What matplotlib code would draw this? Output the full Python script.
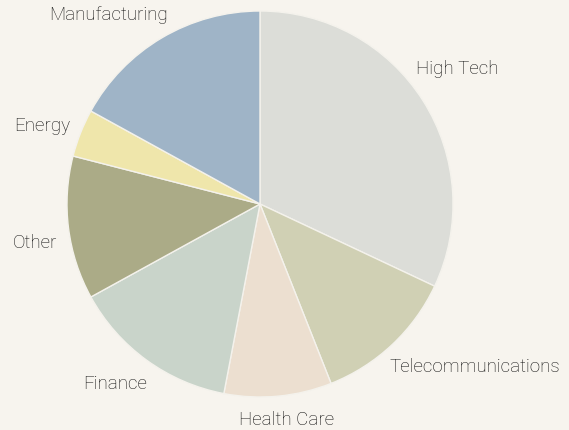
import numpy as np
import matplotlib.pyplot as plt

# sector shares (percent), clockwise from 12 o'clock
sectors = ['High Tech', 'Telecommunications', 'Health Care', 'Finance',
           'Other', 'Energy', 'Manufacturing']
shares = [32, 12, 9, 14, 12, 4, 17]
colors = ['#dcddd8', '#d0d0b4', '#ecdfd0', '#c9d4ca', '#abab87', '#efe6ab', '#9fb4c7']

# label anchor (angle in deg, distance in radii), as laid out in the original
label_at = [(41, 1.07), (-51.6, 1.08), (-83, 1.125), (238, 1.10),
            (191, 1.07), (157.7, 1.06), (116, 1.09)]

bg = '#f7f4ee'
fig = plt.figure(figsize=(5.69, 4.30), dpi=100, facecolor=bg)
# square axes so the pie is centred around (260, 204) px with radius ~193 px
ax = fig.add_axes([67 / 569, 33 / 430, 386 / 569, 386 / 430])
ax.set_facecolor(bg)

wedges, texts = ax.pie(shares, labels=sectors, colors=colors, startangle=90,
                       counterclock=False,
                       wedgeprops=dict(edgecolor='#f4f2ec', linewidth=1.0),
                       textprops=dict(fontsize=13.5, color='#0e0e0e',
                                      family='Roboto', fontweight='light'))
for t, (a, d) in zip(texts, label_at):
    x, y = d * np.cos(np.radians(a)), d * np.sin(np.radians(a))
    t.set_position((x, y))
    t.set_ha('center' if abs(x) < 0.3 else ('left' if x > 0 else 'right'))
    t.set_va('center')

ax.set_xlim(-1, 1)
ax.set_ylim(-1, 1)
ax.axis('off')

fig.savefig('out.png', dpi=100, facecolor=bg)
